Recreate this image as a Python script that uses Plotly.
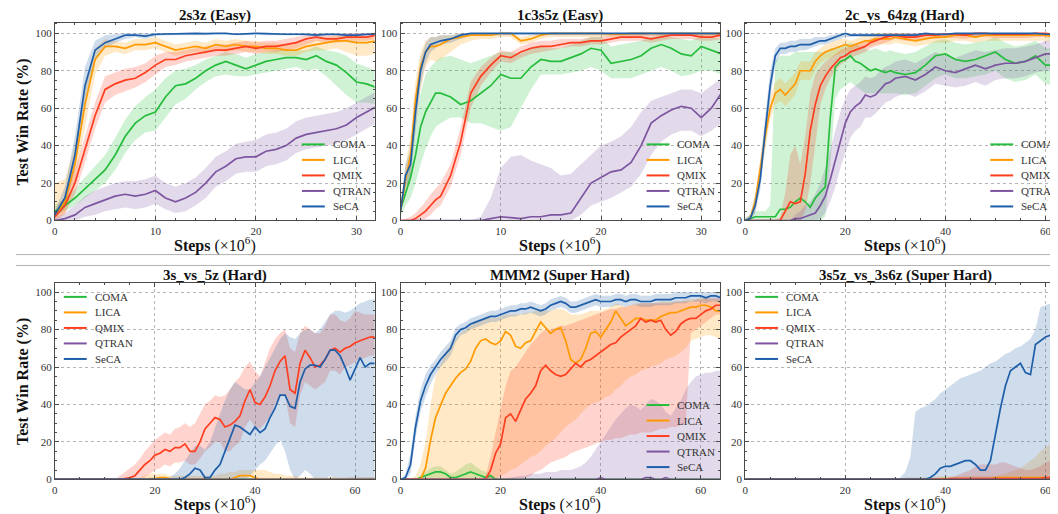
import plotly.graph_objects as go

# ---------------- colours ----------------
COLORS = {"COMA": "#26bd3c", "LICA": "#ff9a00", "QMIX": "#ff3d1f", "QTRAN": "#7d55a0", "SeCA": "#1f5ea8"}
FILLS = {"COMA": "rgba(38,189,60,0.22)", "LICA": "rgba(255,154,0,0.22)", "QMIX": "rgba(255,61,31,0.22)",
         "QTRAN": "rgba(125,85,160,0.22)", "SeCA": "rgba(31,94,168,0.22)"}
METHODS = ["COMA", "LICA", "QMIX", "QTRAN", "SeCA"]

# ================= 2s3z (Easy) =================
x_2s3z = [0, 1, 2, 3, 4, 5, 6, 7, 8, 9, 10, 11, 12, 13, 14, 15, 16, 17, 18, 19, 20, 21, 22, 23, 24, 25, 26, 27, 28, 29, 30, 31, 32]
coma_2s3z = [5, 8, 12, 17, 22, 27, 35, 45, 52, 56, 58, 66, 72, 73, 76, 80, 83, 85, 83, 81, 83, 85, 86, 87, 87, 86, 88, 85, 83, 79, 74, 73, 71]
coma_2s3z_lo = [3, 5, 8, 12, 16, 20, 27, 36, 43, 47, 48, 55, 62, 65, 70, 74, 77, 78, 77, 77, 78, 79, 80, 81, 82, 80, 81, 77, 72, 67, 63, 63, 62]
coma_2s3z_hi = [8, 12, 17, 23, 29, 35, 44, 54, 61, 66, 70, 76, 80, 81, 83, 86, 88, 90, 89, 87, 89, 90, 91, 91, 91, 91, 93, 91, 90, 88, 84, 82, 80]
lica_2s3z = [3, 10, 30, 62, 86, 93, 93, 92, 94, 94, 95, 93, 91, 92, 93, 92, 94, 93, 94, 93, 93, 92, 92, 91, 91, 93, 94, 95, 96, 96, 95, 95, 96]
lica_2s3z_lo = [0, 3, 20, 50, 78, 88, 90, 89, 91, 91, 92, 90, 88, 89, 90, 89, 91, 90, 91, 90, 90, 89, 89, 88, 88, 90, 91, 91, 92, 90, 88, 88, 89]
lica_2s3z_hi = [20, 22, 40, 72, 92, 97, 96, 95, 97, 97, 98, 96, 94, 95, 96, 95, 97, 96, 97, 96, 96, 95, 95, 94, 95, 96, 97, 98, 99, 99, 99, 98, 99]
qmix_2s3z = [2, 8, 20, 38, 56, 70, 73, 75, 76, 79, 83, 86, 86, 88, 89, 90, 91, 91, 92, 93, 92, 93, 93, 94, 95, 97, 98, 97, 97, 98, 98, 98, 99]
qmix_2s3z_lo = [0, 4, 14, 31, 49, 63, 67, 69, 71, 74, 78, 82, 83, 85, 86, 87, 88, 88, 89, 90, 89, 90, 90, 91, 92, 94, 96, 95, 95, 96, 96, 96, 97]
qmix_2s3z_hi = [5, 13, 27, 45, 63, 77, 79, 81, 82, 84, 88, 90, 90, 91, 92, 93, 94, 94, 95, 96, 95, 96, 96, 97, 98, 99, 100, 99, 99, 100, 100, 100, 100]
qtran_2s3z = [0, 1, 3, 7, 9, 11, 13, 14, 13, 14, 16, 12, 10, 12, 15, 20, 26, 29, 33, 34, 34, 37, 38, 40, 44, 46, 47, 48, 49, 51, 55, 58, 61]
qtran_2s3z_lo = [0, 0, 0, 2, 3, 5, 6, 7, 6, 7, 9, 6, 4, 5, 8, 12, 18, 21, 25, 26, 26, 29, 30, 32, 36, 38, 39, 40, 41, 43, 46, 49, 52]
qtran_2s3z_hi = [1, 4, 8, 13, 16, 18, 20, 21, 21, 22, 24, 20, 18, 20, 23, 28, 34, 37, 41, 42, 43, 46, 47, 49, 53, 55, 56, 57, 58, 60, 63, 66, 69]
seca_2s3z = [3, 12, 35, 72, 91, 95, 97, 99, 99, 98.5, 99.5, 99.5, 99.5, 99.8, 100, 99.8, 100, 100, 99.5, 99.8, 100, 99.8, 99.5, 99.5, 99.5, 99.5, 99, 99.5, 99.5, 99, 99, 99.5, 99.5]
seca_2s3z_lo = [1, 7, 27, 63, 86, 92, 95, 97, 98, 97, 98.5, 99, 99, 99, 99, 99, 99.5, 99.5, 99, 99, 99.5, 99, 99, 99, 99, 98.5, 98, 98.5, 98.5, 98, 98, 98.5, 98.5]
seca_2s3z_hi = [5, 18, 45, 82, 96, 99, 99.5, 100, 100, 100, 100, 100, 100, 100, 100, 100, 100, 100, 100, 100, 100, 100, 100, 100, 100, 100, 100, 100, 100, 100, 100, 100, 100]

# ================= 1c3s5z (Easy) =================
x_1c3s5z = [0, 0.5, 1, 1.5, 2, 2.5, 3, 3.5, 4, 5, 6, 7, 8, 9, 10, 11, 12, 13, 14, 15, 16, 17, 18, 19, 20, 21, 22, 23, 24, 25, 26, 27, 28, 29, 30, 31, 32]
coma_1c3s5z = [6, 15, 23, 35, 50, 58, 63, 68, 68, 66, 62, 64, 68, 72, 78, 76, 76, 82, 86, 85, 85, 87, 89, 92, 91, 84, 85, 86, 88, 92, 94, 92, 89, 88, 93, 91, 89]
coma_1c3s5z_lo = [2, 8, 12, 20, 30, 38, 45, 50, 52, 55, 55, 52, 52, 50, 48, 50, 60, 70, 78, 78, 78, 79, 80, 82, 80, 76, 76, 76, 78, 80, 82, 80, 77, 78, 80, 80, 78]
coma_1c3s5z_hi = [10, 22, 35, 52, 68, 78, 82, 85, 87, 88, 86, 84, 86, 88, 90, 90, 89, 92, 93, 92, 92, 94, 96, 98, 98, 93, 94, 95, 96, 98, 99, 98, 97, 96, 99, 98, 97]
lica_1c3s5z = [5, 22, 35, 65, 82, 90, 93, 93, 94, 97, 98, 99, 99, 99, 100, 100, 96, 97, 99, 100, 100, 100, 100, 100, 100, 99.5, 99.5, 100, 100, 100, 100, 100, 100, 100, 100, 100, 100]
lica_1c3s5z_lo = [3, 15, 25, 50, 70, 82, 86, 85, 86, 90, 94, 96, 97, 97, 98, 98, 94, 95, 97, 98, 98, 98, 98, 98, 98, 98, 98, 98, 98, 98.5, 98.5, 98.5, 98.5, 98.5, 98.5, 98.5, 98.5]
lica_1c3s5z_hi = [8, 30, 45, 75, 90, 96, 98, 98, 99, 99, 100, 100, 100, 100, 100, 100, 98, 99, 100, 100, 100, 100, 100, 100, 100, 100, 100, 100, 100, 100, 100, 100, 100, 100, 100, 100, 100]
qmix_1c3s5z = [0, 0, 0, 1, 3, 5, 8, 11, 13, 24, 42, 68, 77, 83, 88, 87, 90, 92, 93, 93, 94, 95, 95, 96, 96, 97, 98, 98, 98, 97, 98, 99, 99, 99, 98, 98, 99]
qmix_1c3s5z_lo = [0, 0, 0, 0, 0, 1, 3, 6, 8, 18, 35, 60, 72, 79, 85, 84, 87, 89, 90, 91, 92, 93, 93, 94, 94, 95, 96, 96, 96, 95, 96, 97, 97, 97, 96, 96, 97]
qmix_1c3s5z_hi = [0, 1, 2, 4, 7, 10, 14, 17, 20, 30, 50, 74, 82, 87, 91, 90, 93, 95, 96, 96, 97, 97, 97, 98, 98, 99, 100, 100, 100, 99, 100, 100, 100, 100, 100, 100, 100]
qtran_1c3s5z = [0, 0, 0, 0, 0, 0, 0, 0, 0, 0, 0, 0, 0, 1, 2, 1.5, 1, 2, 2, 3, 3, 4, 12, 20, 23, 26, 27, 31, 40, 52, 56, 59, 61, 60, 55, 60, 68]
qtran_1c3s5z_lo = [0, 0, 0, 0, 0, 0, 0, 0, 0, 0, 0, 0, 0, 0, 0, 0, 0, 0, 0, 0, 0, 0, 3, 8, 10, 12, 15, 18, 25, 35, 42, 46, 48, 48, 45, 48, 52]
qtran_1c3s5z_hi = [0, 0, 0, 0, 0, 0, 0, 0, 0, 0, 0, 0, 2, 12, 28, 34, 35, 32, 30, 28, 24, 25, 30, 35, 40, 42, 45, 50, 58, 64, 66, 68, 70, 70, 68, 72, 76]
seca_1c3s5z = [5, 24, 30, 58, 80, 90, 94, 95, 96, 97, 99, 100, 100, 100, 100, 100, 100, 100, 100, 100, 100, 100, 100, 100, 100, 100, 100, 100, 100, 100, 100, 100, 100, 100, 100, 100, 100]
seca_1c3s5z_lo = [3, 18, 22, 48, 72, 84, 90, 92, 94, 95, 97, 99, 99, 99, 99, 99, 99, 99, 99, 99, 99, 99, 99, 99, 99, 99, 99, 99, 99, 99, 99, 99, 99, 99, 99, 99, 99]
seca_1c3s5z_hi = [8, 30, 38, 66, 86, 95, 98, 98, 99, 99, 100, 100, 100, 100, 100, 100, 100, 100, 100, 100, 100, 100, 100, 100, 100, 100, 100, 100, 100, 100, 100, 100, 100, 100, 100, 100, 100]

# ================= 2c_vs_64zg (Hard) =================
x_2c64zg = [0, 1, 2, 3, 4, 5, 6, 7, 8, 9, 10, 11, 12, 13, 14, 15, 16, 17, 18, 19, 20, 21, 22, 23, 24, 25, 26, 27, 28, 29, 30,
            32, 34, 36, 38, 40, 42, 44, 46, 48, 50, 52, 54, 56, 58, 60, 62, 64]
coma_2c64zg = [0, 1, 2, 2, 2, 2, 2, 6, 6, 7, 10, 12, 10, 7, 12, 15, 18, 55, 82, 85, 86, 88, 85, 84, 82, 80, 81, 80, 79, 80, 79,
               78, 79, 83, 88, 89, 86, 85, 86, 88, 90, 86, 84, 85, 88, 83, 83, 86]
coma_2c64zg_lo = [0, 0, 0, 0, 0, 0, 0, 0, 0, 0, 0, 0, 0, 0, 0, 0, 2, 30, 65, 70, 72, 74, 72, 70, 68, 68, 68, 68, 68, 68, 68,
                  67, 68, 72, 76, 78, 76, 76, 77, 78, 80, 76, 74, 75, 78, 73, 72, 76]
coma_2c64zg_hi = [1, 3, 5, 5, 5, 8, 85, 88, 88, 88, 90, 90, 90, 90, 90, 90, 90, 92, 92, 93, 94, 95, 94, 93, 92, 91, 92, 91, 90, 91, 90,
                  89, 90, 93, 96, 97, 95, 94, 95, 96, 98, 95, 93, 94, 96, 92, 92, 95]
lica_2c64zg = [0, 1, 10, 28, 45, 60, 68, 70, 67, 70, 73, 80, 80, 80, 85, 88, 90, 91, 92, 93, 94, 93, 94, 95, 96, 96, 97, 97, 97, 97, 98,
               97, 96, 97, 98, 98, 99, 99, 98, 99, 99, 99, 99, 99, 99, 99, 98, 99]
lica_2c64zg_lo = [0, 0, 5, 22, 38, 54, 62, 64, 61, 64, 67, 75, 75, 75, 80, 84, 86, 87, 88, 89, 90, 90, 91, 92, 93, 93, 94, 94, 94, 94, 95,
                  94, 93, 94, 95, 95, 96, 96, 95, 96, 96, 96, 96, 96, 96, 96, 95, 96]
lica_2c64zg_hi = [1, 3, 15, 34, 52, 66, 74, 76, 73, 76, 79, 85, 85, 85, 90, 92, 94, 95, 96, 97, 97, 96, 97, 98, 99, 99, 100, 100, 100, 100, 100,
                  100, 99, 100, 100, 100, 100, 100, 100, 100, 100, 100, 100, 100, 100, 100, 100, 100]
qmix_2c64zg = [0, 0, 0, 0, 0, 0, 0, 0, 5, 10, 9, 10, 25, 48, 62, 72, 77, 81, 84, 87, 88, 90, 91, 92, 93, 95, 96, 97, 98, 98.5, 99,
               98, 98, 99, 99, 99.5, 99.5, 99, 100, 100, 99.5, 99.5, 99.5, 99.5, 100, 100, 99.5, 99.5]
qmix_2c64zg_lo = [0, 0, 0, 0, 0, 0, 0, 0, 0, 0, 0, 0, 5, 20, 40, 62, 70, 76, 80, 83, 85, 87, 88, 89, 90, 92, 93, 94, 95, 96, 97,
                  96, 96, 97, 97, 97.5, 97.5, 97, 98, 98, 97.5, 97.5, 97.5, 97.5, 98, 98, 97.5, 97.5]
qmix_2c64zg_hi = [0, 0, 0, 0, 0, 0, 0, 2, 15, 35, 40, 30, 45, 68, 78, 82, 85, 87, 89, 91, 92, 93, 94, 95, 96, 97, 98, 99, 100, 100, 100,
                  100, 100, 100, 100, 100, 100, 100, 100, 100, 100, 100, 100, 100, 100, 100, 100, 100]
qtran_2c64zg = [0, 0, 0, 0, 0, 0, 0, 0, 0, 0, 1, 1, 2, 3, 4, 8, 13, 22, 32, 43, 52, 58, 61, 63, 67, 66, 67, 70, 73, 74, 76,
                77, 75, 78, 82, 80, 79, 81, 83, 81, 83, 84, 84, 85, 87, 89, 89, 90]
qtran_2c64zg_lo = [0, 0, 0, 0, 0, 0, 0, 0, 0, 0, 0, 0, 0, 0, 0, 1, 4, 10, 18, 28, 36, 44, 48, 50, 55, 55, 57, 60, 63, 64, 66,
                   68, 66, 69, 73, 72, 71, 72, 74, 72, 75, 76, 76, 77, 79, 80, 80, 80]
qtran_2c64zg_hi = [0, 0, 0, 0, 0, 0, 0, 0, 0, 0, 3, 5, 8, 10, 14, 20, 28, 38, 48, 58, 65, 70, 72, 74, 77, 76, 77, 80, 82, 83, 85,
                   86, 84, 87, 90, 88, 87, 89, 91, 90, 91, 92, 92, 93, 94, 96, 96, 97]
seca_2c64zg = [0, 1, 8, 22, 48, 72, 88, 92, 92, 93, 93, 94, 94, 94, 95, 96, 96, 97, 98, 99, 100, 99, 99, 99, 99, 99, 99, 99, 99, 99, 99,
               99, 99, 100, 99.5, 99.5, 100, 100, 100, 100, 100, 100, 100, 100, 100, 99.5, 99.5, 99.5]
seca_2c64zg_lo = [0, 0, 4, 16, 40, 65, 83, 89, 89, 90, 90, 91, 91, 92, 93, 94, 94, 95, 96, 97, 98, 98, 98, 98, 98, 98, 98, 98, 98, 98, 98,
                  98, 98, 98.5, 98.5, 98.5, 98.5, 98.5, 98.5, 98.5, 98.5, 98.5, 98.5, 98.5, 98.5, 98.5, 98.5, 98.5]
seca_2c64zg_hi = [1, 3, 13, 30, 56, 80, 92, 95, 95, 96, 96, 97, 97, 97, 98, 98, 98, 99, 99.5, 100, 100, 100, 100, 100, 100, 100, 100, 100, 100, 100, 100,
                  100, 100, 100, 100, 100, 100, 100, 100, 100, 100, 100, 100, 100, 100, 100, 100, 100]

# ================= 3s_vs_5z (Hard) =================
x_3s5z = [0, 6, 12, 13, 14, 15, 16, 17, 18, 19, 20, 21, 22, 23, 24, 25, 26, 27, 28, 29, 30, 31, 32, 33, 34, 35, 36, 37, 38,
          39, 40, 41, 42, 43, 44, 45, 46, 47, 48, 49, 50, 51, 52, 53, 54, 55, 56, 57, 58, 59, 60, 61, 62, 63, 64]
coma_3s5z = [0, 0, 0, 0, 0, 0, 0, 0, 0, 0, 0, 0, 0, 0, 0, 0, 0, 0, 0, 0, 0, 0, 0, 0, 0, 0, 0, 0, 0,
             0, 0, 0, 0, 0, 0, 0, 0, 0, 0, 0, 0, 0, 0, 0, 0, 0, 0, 0, 0, 0, 0, 0, 0, 0, 0]
coma_3s5z_lo = coma_3s5z
coma_3s5z_hi = coma_3s5z
lica_3s5z = [0, 0, 0, 0, 0, 0, 0, 0, 0, 0.5, 0.5, 1, 1, 0.5, 0, 0, 0, 0, 0, 0, 0, 0, 0, 0, 0, 0, 1, 2, 2,
             2, 1, 0, 0, 0, 0, 0, 0, 0, 0, 0, 0, 0, 0, 0, 0, 0, 0, 0, 0, 0, 0, 0, 0, 0, 0]
lica_3s5z_lo = [0, 0, 0, 0, 0, 0, 0, 0, 0, 0, 0, 0, 0, 0, 0, 0, 0, 0, 0, 0, 0, 0, 0, 0, 0, 0, 0, 0, 0,
                0, 0, 0, 0, 0, 0, 0, 0, 0, 0, 0, 0, 0, 0, 0, 0, 0, 0, 0, 0, 0, 0, 0, 0, 0, 0]
lica_3s5z_hi = [0, 0, 0, 0, 0, 0, 0, 1, 2, 3, 3, 3, 3, 2, 2, 2, 2, 2, 2, 2, 2, 2, 2, 3, 3, 4, 4, 5, 5,
                5, 5, 5, 5, 4, 3, 3, 2, 2, 2, 1, 1, 1, 1, 1, 1, 1, 1, 1, 1, 1, 1, 1, 1, 1, 1]
qmix_3s5z = [0, 0, 0, 0, 0.5, 1, 2, 5, 8, 10, 13, 14, 16, 15, 17, 17, 19, 15, 15, 20, 27, 30, 33, 32, 28, 29, 31, 34, 42,
             48, 41, 40, 44, 50, 58, 63, 66, 48, 46, 62, 69, 65, 60, 61, 64, 69, 70, 68, 70, 71, 73, 74, 75, 76, 76]
qmix_3s5z_lo = [0, 0, 0, 0, 0, 0, 0, 0, 1, 3, 5, 6, 8, 7, 9, 9, 10, 8, 8, 11, 15, 17, 20, 20, 15, 15, 18, 20, 28,
                32, 28, 27, 30, 34, 40, 45, 45, 30, 28, 45, 52, 50, 48, 50, 52, 58, 58, 56, 60, 61, 63, 64, 65, 66, 66]
qmix_3s5z_hi = [0, 0, 0, 2, 4, 6, 8, 11, 15, 18, 21, 23, 25, 24, 27, 28, 30, 28, 30, 35, 40, 42, 45, 44, 45, 48, 52, 55, 60,
                63, 58, 55, 62, 70, 75, 78, 80, 70, 68, 78, 82, 80, 78, 78, 82, 88, 88, 85, 84, 86, 90, 89, 88, 88, 88]
qtran_3s5z = coma_3s5z
qtran_3s5z_lo = coma_3s5z
qtran_3s5z_hi = [0, 0, 0, 0, 0, 0, 0, 0, 0, 0, 0, 0, 0, 0, 0, 0, 0, 0, 0, 0, 0, 0, 0, 0, 0, 0, 0, 0, 0,
                 0, 0, 0, 0, 0, 0, 0, 0, 0, 0, 0, 0, 0, 0, 0, 0, 0, 0, 0, 0.5, 1, 1, 1, 1, 1, 1]
seca_3s5z = [0, 0, 0, 0, 0, 0, 0, 0, 0, 0, 0, 0, 0, 0, 0, 0, 1, 3, 6, 5, 1, 1, 5, 8, 15, 22, 29, 28, 26,
             24, 28, 25, 27, 33, 38, 45, 45, 39, 38, 52, 59, 61, 61, 60, 64, 69, 69, 66, 60, 53, 59, 65, 60, 62, 62]
seca_3s5z_lo = [0, 0, 0, 0, 0, 0, 0, 0, 0, 0, 0, 0, 0, 0, 0, 0, 0, 0, 0, 0, 0, 0, 0, 0, 0, 0, 0, 0, 0,
                2, 5, 8, 10, 14, 18, 21, 15, 5, 0, 2, 5, 3, 0, 0, 0, 2, 0, 0, 0, 0, 0, 0, 0, 0, 0]
seca_3s5z_hi = [0, 0, 0, 0, 0, 0, 0, 0, 0, 0, 0, 0, 0, 1, 3, 6, 10, 14, 18, 18, 16, 20, 28, 35, 42, 48, 52, 50, 48,
                48, 52, 55, 60, 65, 70, 75, 78, 76, 75, 78, 80, 80, 78, 80, 84, 88, 90, 90, 89, 90, 92, 94, 95, 96, 96]

# ================= MMM2 (Super Hard) =================
x_mmm2 = [0, 1, 2, 3, 4, 5, 6, 7, 8, 9, 10, 11, 12, 13, 14, 15, 16, 17, 18, 19, 20, 21, 22, 23, 24, 25, 26, 27, 28, 29, 30, 31, 32,
          33, 34, 35, 36, 37, 38, 39, 40, 41, 42, 43, 44, 45, 46, 47, 48, 49, 50, 51, 52, 53, 54, 55, 56, 57, 58, 59, 60, 61, 62, 63, 64]
coma_mmm2 = [0, 0, 0, 0, 1, 2, 3, 4, 4, 3, 1, 1, 2, 3, 4, 3, 2, 1, 2, 0, 0, 0, 0, 0, 0, 0, 0, 0, 0, 0, 0, 0, 0,
             0, 0, 0, 0, 0, 0, 0, 0, 0, 0, 0, 0, 0, 0, 0, 0, 0, 0, 0, 0, 0, 0, 0, 0, 0, 0, 0, 0, 0, 0, 0, 0]
coma_mmm2_lo = [0, 0, 0, 0, 0, 0, 0, 0, 0, 0, 0, 0, 0, 0, 0, 0, 0, 0, 0, 0, 0, 0, 0, 0, 0, 0, 0, 0, 0, 0, 0, 0, 0,
                0, 0, 0, 0, 0, 0, 0, 0, 0, 0, 0, 0, 0, 0, 0, 0, 0, 0, 0, 0, 0, 0, 0, 0, 0, 0, 0, 0, 0, 0, 0, 0]
coma_mmm2_hi = [0, 0, 0, 0, 2, 4, 6, 7, 7, 5, 3, 4, 6, 8, 9, 7, 5, 4, 3, 1, 0, 0, 0, 0, 0, 0, 0, 0, 0, 0, 0, 0, 0,
                0, 0, 0, 0, 0, 0, 0, 0, 0, 0, 0, 0, 0, 0, 0, 0, 0, 0, 0, 0, 0, 0, 0, 0, 0, 0, 0, 0, 0, 0, 0, 0]
lica_mmm2 = [0, 0, 0, 0, 0, 6, 21, 33, 40, 46, 50, 54, 57, 59, 63, 70, 74, 75, 73, 72, 74, 79, 77, 71, 70, 73, 74, 79, 84, 81, 78, 80, 81,
             74, 64, 62, 64, 70, 78, 79, 76, 80, 84, 90, 86, 82, 84, 86, 86, 85, 85, 85, 87, 88, 89, 89, 90, 91, 92, 92, 93, 93, 92, 90, 90]
lica_mmm2_lo = [0, 0, 0, 0, 0, 0, 0, 0, 0, 0, 0, 0, 0, 0, 0, 0, 0, 0, 0, 0, 2, 3, 5, 6, 8, 10, 12, 13, 15, 18, 20, 22, 25,
                28, 30, 32, 35, 38, 40, 41, 42, 44, 45, 48, 50, 53, 55, 56, 58, 59, 60, 61, 62, 64, 65, 66, 68, 70, 74, 75, 76, 77, 77, 76, 75]
lica_mmm2_hi = [0, 0, 0, 2, 8, 20, 40, 55, 62, 68, 72, 75, 78, 80, 82, 84, 85, 86, 86, 86, 87, 88, 88, 88, 88, 89, 89, 90, 90, 90, 90, 91, 91,
                90, 88, 88, 88, 89, 90, 90, 90, 91, 92, 94, 93, 92, 93, 94, 94, 94, 94, 94, 95, 95, 95, 95, 95, 96, 96, 96, 97, 97, 96, 96, 96]
qmix_mmm2 = [0, 0, 0, 0, 0, 0, 0, 0, 0, 0, 0, 0, 0, 0, 0, 0, 0, 0, 5, 14, 19, 33, 35, 31, 37, 43, 46, 50, 58, 61, 58, 56, 55,
             56, 59, 62, 60, 63, 64, 66, 68, 70, 72, 73, 76, 78, 80, 82, 86, 84, 85, 84, 85, 80, 77, 79, 83, 85, 86, 86, 88, 90, 91, 93, 93]
qmix_mmm2_lo = [0, 0, 0, 0, 0, 0, 0, 0, 0, 0, 0, 0, 0, 0, 0, 0, 0, 0, 0, 0, 0, 0, 0, 0, 0, 1, 2, 4, 5, 7, 9, 10, 11,
                12, 14, 15, 16, 17, 18, 19, 20, 21, 21, 22, 22, 23, 24, 24, 25, 25, 25, 26, 27, 27, 28, 28, 29, 30, 78, 80, 82, 84, 86, 88, 88]
qmix_mmm2_hi = [0, 0, 0, 0, 0, 0, 0, 0, 0, 0, 0, 0, 0, 0, 0, 0, 0, 2, 12, 25, 38, 50, 58, 60, 64, 68, 72, 75, 78, 80, 80, 81, 82,
                82, 83, 84, 85, 86, 87, 88, 89, 90, 91, 91, 92, 92, 93, 93, 94, 94, 94, 94, 94, 94, 94, 95, 95, 95, 95, 96, 96, 97, 97, 97, 97]
qtran_mmm2 = [0, 0, 0, 0, 0, 0, 0, 0, 0, 0, 0, 0, 0, 0, 0, 0, 0, 0, 0, 0, 0, 0, 0, 0, 0, 0, 0, 0, 0, 0, 0, 0, 0,
              0, 0, 0, 0, 0, 0, 0, 1, 0, 0, 0, 0, 0, 0, 0, 0, 1, 1, 0, 0, 1, 0, 0, 0, 0, 0, 0, 0, 0, 0, 0, 0]
qtran_mmm2_lo = coma_mmm2_lo
qtran_mmm2_hi = [0, 0, 0, 0, 0, 0, 0, 0, 0, 0, 0, 0, 0, 0, 0, 0, 0, 0, 0, 0, 0, 0.5, 1, 1.5, 2, 2, 3, 3, 3, 4, 4, 4, 5,
                 5, 5, 6, 7, 9, 12, 16, 20, 24, 28, 32, 35, 38, 40, 39, 37, 40, 43, 42, 40, 36, 34, 38, 42, 48, 52, 55, 56, 57, 57, 58, 58]
seca_mmm2 = [0, 1, 8, 28, 42, 50, 56, 60, 64, 67, 70, 77, 80, 81, 83, 84, 85, 86, 87, 87, 88, 89, 90, 90, 91, 91, 92, 91, 90, 91, 93, 94, 95,
             94, 92, 92, 93, 94, 95, 96, 95, 95, 95, 96, 96, 95, 96, 96, 95, 95, 95, 96, 96, 96, 96, 97, 97, 97, 98, 98, 98, 97, 98, 98, 97]
seca_mmm2_lo = [0, 0, 3, 22, 36, 44, 51, 56, 60, 63, 66, 73, 77, 78, 80, 81, 82, 83, 84, 84, 85, 86, 87, 87, 88, 88, 89, 88, 87, 88, 90, 91, 92,
                91, 89, 89, 90, 91, 92, 93, 92, 92, 92, 93, 93, 92, 93, 93, 92, 92, 92, 93, 93, 93, 93, 94, 94, 94, 95, 95, 95, 94, 95, 95, 94]
seca_mmm2_hi = [0, 3, 14, 34, 48, 56, 61, 64, 68, 71, 74, 81, 83, 84, 86, 87, 88, 89, 90, 90, 91, 92, 93, 93, 94, 94, 95, 94, 93, 94, 96, 97, 98,
                97, 95, 95, 96, 97, 98, 99, 98, 98, 98, 99, 99, 98, 99, 99, 98, 98, 98, 99, 99, 99, 99, 100, 100, 100, 100, 100, 100, 100, 100, 100, 100]

# ================= 3s5z_vs_3s6z (Super Hard) =================
x_3s5z3s6z = [0, 10, 20, 25, 30, 31, 32, 33, 34, 35, 36, 37, 38, 39, 40, 41, 42, 43, 44, 45, 46, 47, 48, 49, 50, 51, 52, 53, 54,
              55, 56, 57, 58, 59, 60, 61, 62, 63, 64]
coma_3s5z3s6z = [0, 0, 0, 0, 0, 0, 0, 0, 0, 0, 0, 0, 0, 0, 0, 0, 0, 0, 0, 0, 0, 0, 0, 0, 0, 0, 0, 0, 0,
                 0, 0, 0, 0, 0, 0, 0, 0, 0, 0]
coma_3s5z3s6z_lo = coma_3s5z3s6z
coma_3s5z3s6z_hi = coma_3s5z3s6z
lica_3s5z3s6z = [0, 0, 0, 0, 0, 0, 0, 0, 0, 0, 0, 0, 0, 0.5, 0.5, 0.5, 0.5, 0.5, 0.5, 0.5, 0.5, 0.5, 0.5, 0.5, 1, 1, 1, 1, 1,
                 1, 1, 1, 1, 1, 1, 1, 1, 1, 1]
lica_3s5z3s6z_lo = coma_3s5z3s6z
lica_3s5z3s6z_hi = [0, 0, 0, 0, 0, 0.5, 1, 1, 1, 1, 1, 1.5, 1.5, 1.5, 1.5, 1.5, 1.5, 1.5, 2, 2, 2, 2, 2, 2, 2, 2.5, 3, 4, 5,
                    6, 8, 10, 12, 15, 17, 19, 21, 23, 25]
qmix_3s5z3s6z = [0, 0, 0, 0, 0, 0, 0, 0, 0, 0, 0, 0, 0, 0, 0, 0.5, 0.5, 0.5, 0.5, 0.5, 0.5, 0.5, 0.5, 0.5, 0.5, 0.5, 0.5, 0.5, 0.5,
                 0.5, 0.5, 0.5, 0.5, 0.5, 1, 1, 1, 1, 1]
qmix_3s5z3s6z_lo = coma_3s5z3s6z
qmix_3s5z3s6z_hi = [0, 0, 0, 0, 0, 0, 0, 0, 0, 0, 0, 0, 0, 0, 0.5, 1, 2, 3, 4, 5, 7, 8, 8, 8, 8, 9, 9, 8, 7,
                    6, 5, 5, 6, 7, 9, 10, 12, 14, 15]
qtran_3s5z3s6z = coma_3s5z3s6z
qtran_3s5z3s6z_lo = coma_3s5z3s6z
qtran_3s5z3s6z_hi = coma_3s5z3s6z
seca_3s5z3s6z = [0, 0, 0, 0, 0, 0, 0, 0, 0, 0, 0, 1, 3, 6, 7, 7, 8, 9, 10, 10, 8, 5, 5, 10, 25, 38, 50, 58, 60,
                 62, 57, 56, 72, 74, 76, 77, 78, 79, 80]
seca_3s5z3s6z_lo = coma_3s5z3s6z
seca_3s5z3s6z_hi = [0, 0, 0, 0, 0, 1, 4, 12, 36, 38, 39, 41, 43, 46, 48, 50, 52, 54, 55, 56, 57, 58, 60, 62, 63, 65, 67, 68, 70,
                    71, 73, 75, 80, 92, 93, 94, 95, 96, 96]

# ---------------- panel definitions ----------------
PANELS = [
    dict(title="2s3z (Easy)", x=x_2s3z, xr=[0, 31.8], dt=10, mdt=2,
         data={"COMA": (coma_2s3z, coma_2s3z_lo, coma_2s3z_hi), "LICA": (lica_2s3z, lica_2s3z_lo, lica_2s3z_hi),
               "QMIX": (qmix_2s3z, qmix_2s3z_lo, qmix_2s3z_hi), "QTRAN": (qtran_2s3z, qtran_2s3z_lo, qtran_2s3z_hi),
               "SeCA": (seca_2s3z, seca_2s3z_lo, seca_2s3z_hi)}),
    dict(title="1c3s5z (Easy)", x=x_1c3s5z, xr=[0, 31.9], dt=10, mdt=2,
         data={"COMA": (coma_1c3s5z, coma_1c3s5z_lo, coma_1c3s5z_hi), "LICA": (lica_1c3s5z, lica_1c3s5z_lo, lica_1c3s5z_hi),
               "QMIX": (qmix_1c3s5z, qmix_1c3s5z_lo, qmix_1c3s5z_hi), "QTRAN": (qtran_1c3s5z, qtran_1c3s5z_lo, qtran_1c3s5z_hi),
               "SeCA": (seca_1c3s5z, seca_1c3s5z_lo, seca_1c3s5z_hi)}),
    dict(title="2c_vs_64zg (Hard)", x=x_2c64zg, xr=[0, 63.9], dt=20, mdt=5,
         data={"COMA": (coma_2c64zg, coma_2c64zg_lo, coma_2c64zg_hi), "LICA": (lica_2c64zg, lica_2c64zg_lo, lica_2c64zg_hi),
               "QMIX": (qmix_2c64zg, qmix_2c64zg_lo, qmix_2c64zg_hi), "QTRAN": (qtran_2c64zg, qtran_2c64zg_lo, qtran_2c64zg_hi),
               "SeCA": (seca_2c64zg, seca_2c64zg_lo, seca_2c64zg_hi)}),
    dict(title="3s_vs_5z (Hard)", x=x_3s5z, xr=[0, 63.9], dt=20, mdt=5,
         data={"COMA": (coma_3s5z, coma_3s5z_lo, coma_3s5z_hi), "LICA": (lica_3s5z, lica_3s5z_lo, lica_3s5z_hi),
               "QMIX": (qmix_3s5z, qmix_3s5z_lo, qmix_3s5z_hi), "QTRAN": (qtran_3s5z, qtran_3s5z_lo, qtran_3s5z_hi),
               "SeCA": (seca_3s5z, seca_3s5z_lo, seca_3s5z_hi)}),
    dict(title="MMM2 (Super Hard)", x=x_mmm2, xr=[0, 63.9], dt=20, mdt=5,
         data={"COMA": (coma_mmm2, coma_mmm2_lo, coma_mmm2_hi), "LICA": (lica_mmm2, lica_mmm2_lo, lica_mmm2_hi),
               "QMIX": (qmix_mmm2, qmix_mmm2_lo, qmix_mmm2_hi), "QTRAN": (qtran_mmm2, qtran_mmm2_lo, qtran_mmm2_hi),
               "SeCA": (seca_mmm2, seca_mmm2_lo, seca_mmm2_hi)}),
    dict(title="3s5z_vs_3s6z (Super Hard)", x=x_3s5z3s6z, xr=[0, 63.9], dt=20, mdt=5,
         data={"COMA": (coma_3s5z3s6z, coma_3s5z3s6z_lo, coma_3s5z3s6z_hi), "LICA": (lica_3s5z3s6z, lica_3s5z3s6z_lo, lica_3s5z3s6z_hi),
               "QMIX": (qmix_3s5z3s6z, qmix_3s5z3s6z_lo, qmix_3s5z3s6z_hi), "QTRAN": (qtran_3s5z3s6z, qtran_3s5z3s6z_lo, qtran_3s5z3s6z_hi),
               "SeCA": (seca_3s5z3s6z, seca_3s5z3s6z_lo, seca_3s5z3s6z_hi)}),
]

W, H = 1058, 514
XDOM = [[44 / W, 365 / W], [391 / W, 712 / W], [737 / W, 1.0]]
YDOM = [[1 - 215 / H, 1 - 15 / H], [1 - 477 / H, 1 - 278 / H]]
YR = [[0, 105.6], [0, 105.0]]
TITLE_MID = [8, 270.5]          # px, vertical centre of title text per row
# legend: (line start px, first entry centre y px) per panel; entries 15.7 px apart
LEG = [(292, 138), (638, 138), (983, 138), (53, 292.3), (638, 401.7), (747, 292.3)]
LEG_STEP = 15.7
LEG_LINE = 23
LEG_GAP = 6

FONT = "Liberation Serif, Times New Roman, serif"
AXC = "#4a4a4a"

fig = go.Figure()
layout = dict(width=W, height=H, margin=dict(l=0, r=0, t=0, b=0), paper_bgcolor="white", plot_bgcolor="white",
              font=dict(family=FONT, color="#222"), showlegend=False)
annotations = []
shapes = [
    dict(type="line", xref="paper", yref="paper", x0=5 / W, x1=1, y0=1 - 249.5 / H, y1=1 - 249.5 / H, line=dict(color="#b0b0b0", width=1)),
    dict(type="line", xref="paper", yref="paper", x0=5 / W, x1=1, y0=1 - 260.5 / H, y1=1 - 260.5 / H, line=dict(color="#b0b0b0", width=1)),
]

for i, p in enumerate(PANELS):
    k = "" if i == 0 else str(i + 1)
    row, col = divmod(i, 3)
    xa, ya = "x" + k, "y" + k
    for m in METHODS:
        mean, lo, hi = p["data"][m]
        for arr in (mean, lo, hi):
            assert len(arr) == len(p["x"]), (p["title"], m, len(arr), len(p["x"]))
        fig.add_trace(go.Scatter(x=list(p["x"]) + list(p["x"])[::-1], y=list(hi) + list(lo)[::-1], fill="toself",
                                 fillcolor=FILLS[m], line=dict(width=0), mode="lines", hoverinfo="skip",
                                 showlegend=False, xaxis=xa, yaxis=ya))
    for m in METHODS:
        mean, lo, hi = p["data"][m]
        fig.add_trace(go.Scatter(x=p["x"], y=mean, mode="lines", name=m, line=dict(color=COLORS[m], width=1.7),
                                 xaxis=xa, yaxis=ya, showlegend=False))
    common = dict(showline=True, linecolor=AXC, linewidth=1, mirror="ticks", ticks="inside", ticklen=4,
                  tickcolor=AXC, tickfont=dict(family=FONT, size=11, color="#333"), showgrid=True,
                  gridcolor="#b5b5b5", gridwidth=0.7, griddash="dot", zeroline=False)
    layout["xaxis" + k] = dict(common, domain=XDOM[col], range=p["xr"], dtick=p["dt"], tick0=0,
                               anchor=ya, minor=dict(ticks="inside", ticklen=2, dtick=p["mdt"], tickcolor=AXC, showgrid=False))
    layout["yaxis" + k] = dict(common, domain=YDOM[row], range=YR[row], dtick=20, tick0=0,
                               anchor=xa, minor=dict(ticks="inside", ticklen=2, dtick=5, tickcolor=AXC, showgrid=False))
    # legend drawn as line samples + text labels
    lx, ly = LEG[i]
    for j, m in enumerate(METHODS):
        yy = 1 - (ly + j * LEG_STEP) / H
        shapes.append(dict(type="line", xref="paper", yref="paper", x0=lx / W, x1=(lx + LEG_LINE) / W, y0=yy, y1=yy,
                           line=dict(color=COLORS[m], width=2)))
        annotations.append(dict(text=m, x=(lx + LEG_LINE + LEG_GAP) / W, y=yy, xref="paper", yref="paper",
                                xanchor="left", yanchor="middle", showarrow=False,
                                font=dict(family=FONT, size=11, color="#333")))
    # titles
    cx = (XDOM[col][0] + XDOM[col][1]) / 2
    annotations.append(dict(text="<b>" + p["title"] + "</b>", x=cx, y=1 - TITLE_MID[row] / H, xref="paper", yref="paper",
                            xanchor="center", yanchor="middle", borderpad=0, showarrow=False,
                            font=dict(family=FONT, size=15, color="#111")))
    annotations.append(dict(text="<b>Steps</b> (×10<sup>6</sup>)", x=cx, y=YDOM[row][0] - 24 / H, xref="paper", yref="paper",
                            xanchor="center", yanchor="middle", showarrow=False, font=dict(family=FONT, size=16, color="#111")))
    if col == 0:
        annotations.append(dict(text="<b>Test Win Rate (%)</b>", x=12 / W, y=sum(YDOM[row]) / 2, xref="paper", yref="paper",
                                xanchor="center", yanchor="middle", textangle=-90, showarrow=False,
                                font=dict(family=FONT, size=16, color="#111")))

layout["annotations"] = annotations
layout["shapes"] = shapes
fig.update_layout(**layout)
fig.write_html("out.html")
